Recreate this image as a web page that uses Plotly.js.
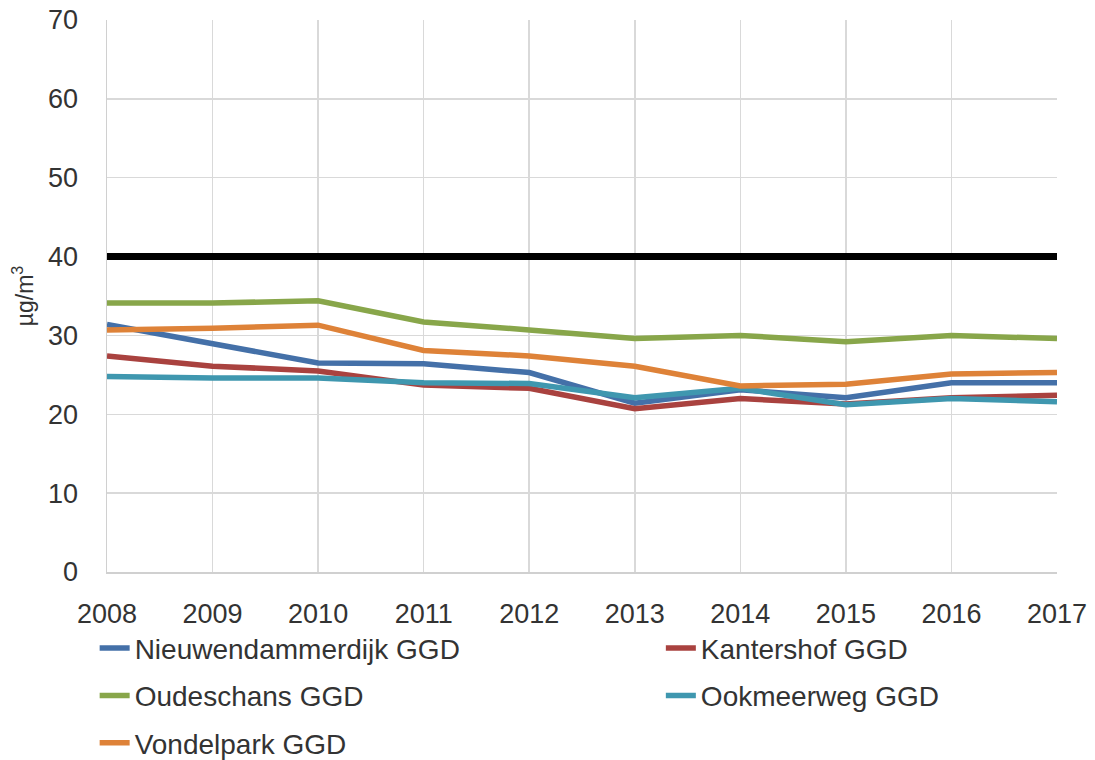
<!DOCTYPE html>
<html>
<head>
<meta charset="utf-8">
<script src="https://cdn.plot.ly/plotly-3.0.1.min.js"></script>
<style>html,body{margin:0;padding:0;background:#fff;}#chart{width:1095px;height:760px;}</style>
</head>
<body>
<div id="chart"></div>
<script>
const years = [2008, 2009, 2010, 2011, 2012, 2013, 2014, 2015, 2016, 2017];
const nieuwendammerdijk = [31.4, 29.0, 26.5, 26.4, 25.3, 21.4, 23.1, 22.1, 24.0, 24.0];
const kantershof = [27.4, 26.1, 25.5, 23.7, 23.3, 20.7, 22.0, 21.3, 22.1, 22.4];
const oudeschans = [34.1, 34.1, 34.4, 31.7, 30.7, 29.6, 30.0, 29.2, 30.0, 29.6];
const ookmeerweg = [24.8, 24.6, 24.6, 24.0, 23.9, 22.1, 23.3, 21.2, 22.0, 21.6];
const vondelpark = [30.7, 30.9, 31.3, 28.1, 27.4, 26.1, 23.6, 23.8, 25.1, 25.3];
const limitValue = [40, 40, 40, 40, 40, 40, 40, 40, 40, 40];
const seriesNames = ["Nieuwendammerdijk GGD", "Kantershof GGD", "Oudeschans GGD", "Ookmeerweg GGD", "Vondelpark GGD"];
const yTitle = "µg/m<sup>3</sup>";

const colors = ["#4470A8", "#A9423F", "#88A64A", "#3F97AF", "#DE8238"];
const seriesData = [nieuwendammerdijk, kantershof, oudeschans, ookmeerweg, vondelpark];
const legendColumn = ["legend", "legend2", "legend", "legend2", "legend"];

const font = "'Liberation Sans', Arial, sans-serif";

const traces = [{
  x: years, y: limitValue, type: "scatter", mode: "lines",
  line: {color: "#000000", width: 7}, showlegend: false, hoverinfo: "skip"
}];
seriesData.forEach((d, i) => {
  traces.push({
    x: years, y: d, type: "scatter", mode: "lines", name: seriesNames[i],
    legend: legendColumn[i], legendgroup: "g" + i,
    line: {color: colors[i], width: 5.5}
  });
});

const legendBase = {
  orientation: "v", xanchor: "left", yanchor: "top",
  font: {family: font, size: 28, color: "#333333"},
  tracegroupgap: 8, bgcolor: "rgba(0,0,0,0)", borderwidth: 0
};

const layout = {
  width: 1095, height: 760,
  margin: {l: 107, r: 38, t: 20, b: 188, autoexpand: false},
  paper_bgcolor: "#ffffff", plot_bgcolor: "#ffffff",
  font: {family: font, color: "#333333", size: 27},
  xaxis: {
    range: [2008, 2017], tickmode: "linear", dtick: 1, tick0: 2008,
    showgrid: true, gridcolor: "#D9D9D9", gridwidth: 1.5,
    showline: true, linecolor: "#D0D0D0", linewidth: 1.5,
    zeroline: false, ticks: "", ticklabelstandoff: 17,
    tickfont: {family: font, size: 27, color: "#333333"},
    fixedrange: true
  },
  yaxis: {
    range: [0, 70], tickmode: "linear", dtick: 10, tick0: 0,
    showgrid: true, gridcolor: "#D9D9D9", gridwidth: 1.5,
    showline: true, linecolor: "#D0D0D0", linewidth: 1.5,
    zeroline: false, ticks: "", ticklabelstandoff: 22,
    tickfont: {family: font, size: 27, color: "#333333"},
    title: {text: yTitle, font: {size: 23, color: "#333333", family: font}, standoff: 8},
    fixedrange: true
  },
  legend: Object.assign({}, legendBase, {x: -0.013, y: -0.093}),
  legend2: Object.assign({}, legendBase, {x: 0.583, y: -0.093}),
  showlegend: true
};

Plotly.newPlot("chart", traces, layout, {displayModeBar: false, staticPlot: true});
</script>
</body>
</html>
